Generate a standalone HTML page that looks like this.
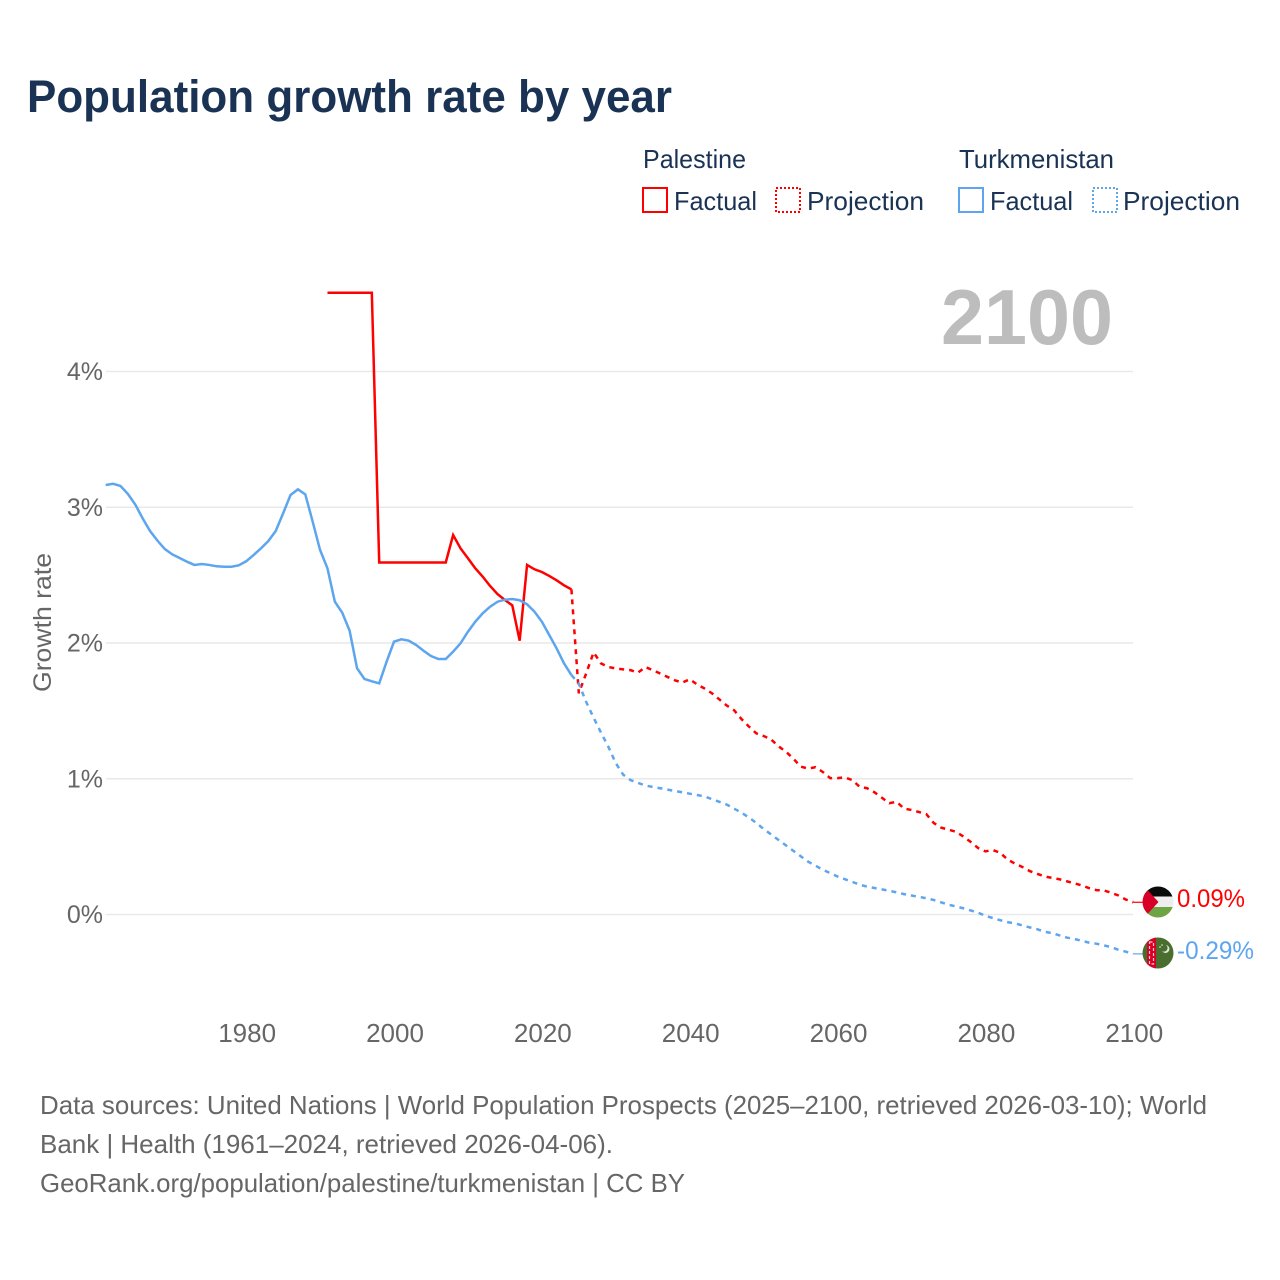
<!DOCTYPE html>
<html lang="en">
<head>
<meta charset="utf-8">
<title>Population growth rate by year</title>
<style>
  html, body { margin: 0; padding: 0; background: #fff; }
  svg { display: block; font-family: "Liberation Sans", sans-serif; }
</style>
</head>
<body>
<svg id="chart" width="1280" height="1280" viewBox="0 0 1280 1280" xmlns="http://www.w3.org/2000/svg">
  <rect x="0" y="0" width="1280" height="1280" fill="#ffffff"/>
  <text x="27" y="112" font-size="45" font-weight="700" fill="#1a3354" textLength="645" lengthAdjust="spacingAndGlyphs">Population growth rate by year</text>

  <g font-size="26" fill="#1a3354">
    <text x="643" y="168" textLength="103" lengthAdjust="spacingAndGlyphs">Palestine</text>
    <text x="959" y="168" textLength="155" lengthAdjust="spacingAndGlyphs">Turkmenistan</text>

    <g>
      <rect x="643" y="188" width="24" height="24" fill="none" stroke="#ff0000" stroke-width="2"/>
      <text x="674" y="210" textLength="83" lengthAdjust="spacingAndGlyphs">Factual</text>
    </g>
    <g>
      <rect x="776" y="188" width="24" height="24" fill="none" stroke="#ff0000" stroke-width="2" stroke-dasharray="2 2"/>
      <text x="807" y="210" textLength="117" lengthAdjust="spacingAndGlyphs">Projection</text>
    </g>
    <g>
      <rect x="959" y="188" width="24" height="24" fill="none" stroke="#5da5ee" stroke-width="2"/>
      <text x="990" y="210" textLength="83" lengthAdjust="spacingAndGlyphs">Factual</text>
    </g>
    <g>
      <rect x="1093" y="188" width="24" height="24" fill="none" stroke="#5da5ee" stroke-width="2" stroke-dasharray="2 2"/>
      <text x="1123" y="210" textLength="117" lengthAdjust="spacingAndGlyphs">Projection</text>
    </g>
  </g>

  <g id="grid"></g>
  <g id="yticks"></g>
  <g id="xticks"></g>

  <text x="941" y="344" font-size="78" font-weight="700" fill="#bdbdbd" textLength="172" lengthAdjust="spacingAndGlyphs">2100</text>
  <text transform="translate(51,692) rotate(-90)" font-size="25" fill="#666666" textLength="139" lengthAdjust="spacingAndGlyphs">Growth rate</text>

  <g id="series"></g>

  <defs>
    <clipPath id="clip-ps"><circle cx="1158" cy="902" r="15.5"/></clipPath>
    <clipPath id="clip-tm"><circle cx="1158" cy="953" r="15.5"/></clipPath>
  </defs>

  <g clip-path="url(#clip-ps)">
    <rect x="1142" y="886" width="32" height="10.5" fill="#0a0a0a"/>
    <rect x="1142" y="896.5" width="32" height="10.5" fill="#eeeeee"/>
    <rect x="1142" y="907" width="32" height="11" fill="#6da544"/>
    <polygon points="1142,884 1158.5,902 1142,920" fill="#d80027"/>
  </g>

  <g clip-path="url(#clip-tm)">
    <rect x="1142" y="937" width="32" height="32" fill="#496e2d"/>
    <rect x="1147" y="937" width="9" height="32" fill="#d80027"/>
    <rect x="1149.5" y="942" width="4" height="22" fill="none" stroke="#f3c9c9" stroke-width="1.2" stroke-dasharray="3 2"/>
    <path d="M1166 945 a4 4 0 1 1 -4 6 a3.4 3.4 0 0 0 4 -6z" fill="#dfe6d8"/>
    <circle cx="1160" cy="947" r="0.8" fill="#eeeeee"/>
    <circle cx="1162" cy="945" r="0.8" fill="#eeeeee"/>
  </g>

  <text x="1177" y="907" font-size="25" fill="#ff0000" textLength="68" lengthAdjust="spacingAndGlyphs">0.09%</text>
  <text x="1177" y="959" font-size="25" fill="#5da5ee" textLength="77" lengthAdjust="spacingAndGlyphs">-0.29%</text>

  <g font-size="26" fill="#666666">
    <text x="40" y="1114" textLength="1167" lengthAdjust="spacingAndGlyphs">Data sources: United Nations | World Population Prospects (2025–2100, retrieved 2026-03-10); World</text>
    <text x="40" y="1153" textLength="573" lengthAdjust="spacingAndGlyphs">Bank | Health (1961–2024, retrieved 2026-04-06).</text>
    <text x="40" y="1192" textLength="645" lengthAdjust="spacingAndGlyphs">GeoRank.org/population/palestine/turkmenistan | CC BY</text>
  </g>
</svg>

<script>
const yTickValues = [0, 1, 2, 3, 4];
const yTickLabels = ["0%", "1%", "2%", "3%", "4%"];
const xTickValues = [1980, 2000, 2020, 2040, 2060, 2080, 2100];

const turkmenistanFactualStart = 1961;
const turkmenistanFactual = [
  3.164, 3.173, 3.157, 3.098, 3.02, 2.918, 2.825, 2.754, 2.692, 2.653,
  2.626, 2.599, 2.575, 2.582, 2.575, 2.565, 2.562, 2.562, 2.572, 2.602,
  2.648, 2.697, 2.751, 2.825, 2.955, 3.09, 3.132, 3.095, 2.894, 2.685,
  2.55, 2.304, 2.223, 2.09, 1.814, 1.735, 1.718, 1.703, 1.862, 2.01,
  2.027, 2.017, 1.985, 1.943, 1.904, 1.882, 1.882, 1.936, 1.998, 2.083,
  2.157, 2.219, 2.267, 2.304, 2.319, 2.324, 2.315, 2.285, 2.231, 2.157,
  2.059, 1.96, 1.85, 1.764
];

const turkmenistanProjectionStart = 2024;
const turkmenistanProjection = [
  1.764, 1.70, 1.565, 1.45, 1.34, 1.235, 1.115, 1.03, 0.99, 0.97, 0.95,
  0.94, 0.93, 0.92, 0.91, 0.90, 0.89, 0.88, 0.87, 0.85, 0.83, 0.81,
  0.78, 0.75, 0.715, 0.675, 0.63, 0.59, 0.55, 0.51, 0.47, 0.43,
  0.39, 0.36, 0.33, 0.305, 0.28, 0.26, 0.24, 0.22, 0.205, 0.195,
  0.185, 0.175, 0.163, 0.15, 0.14, 0.13, 0.12, 0.107, 0.09, 0.072,
  0.06, 0.046, 0.03, 0.014, -0.01, -0.026, -0.042, -0.056, -0.066, -0.08,
  -0.095, -0.108, -0.127, -0.137, -0.153, -0.17, -0.18, -0.193, -0.207, -0.215,
  -0.227, -0.24, -0.26, -0.274, -0.29
];

const palestineFactualStart = 1991;
const palestineFactual = [
  4.58, 4.58, 4.58, 4.58, 4.58, 4.58, 4.58, 2.593, 2.593, 2.593,
  2.593, 2.593, 2.593, 2.593, 2.593, 2.593, 2.593, 2.795, 2.697, 2.624,
  2.55, 2.489, 2.42, 2.36, 2.317, 2.277, 2.017, 2.575, 2.543, 2.523,
  2.494, 2.462, 2.425, 2.395
];

const palestineProjectionStart = 2024;
const palestineProjection = [
  2.395, 1.63, 1.777, 1.931, 1.85, 1.823, 1.813, 1.806, 1.80, 1.781, 1.823,
  1.80, 1.775, 1.75, 1.725, 1.708, 1.733, 1.695, 1.665, 1.63, 1.585, 1.54,
  1.505, 1.44, 1.385, 1.335, 1.315, 1.29, 1.24, 1.20, 1.15, 1.09,
  1.075, 1.085, 1.05, 1.005, 1.005, 1.01, 0.99, 0.94, 0.93, 0.90,
  0.86, 0.82, 0.83, 0.78, 0.77, 0.755, 0.74, 0.675, 0.64, 0.625,
  0.61, 0.575, 0.535, 0.49, 0.465, 0.475, 0.455, 0.405, 0.375, 0.35,
  0.32, 0.30, 0.28, 0.27, 0.26, 0.245, 0.23, 0.215, 0.195, 0.18,
  0.178, 0.16, 0.14, 0.11, 0.09
];

const SVG_NS = "http://www.w3.org/2000/svg";
function xScale(year) { return 394 + (year - 2000) * 7.3925; }
function yScale(value) { return 914.5 - value * 135.75; }

function pointsFor(values, startYear) {
  return values.map(function (v, i) {
    return xScale(startYear + i).toFixed(2) + "," + yScale(v).toFixed(2);
  }).join(" ");
}

const gridGroup = document.getElementById("grid");
const yTickGroup = document.getElementById("yticks");
const xTickGroup = document.getElementById("xticks");
const seriesGroup = document.getElementById("series");

yTickValues.forEach(function (v, i) {
  const line = document.createElementNS(SVG_NS, "line");
  
  
  line.setAttribute("x1", 106);
  line.setAttribute("x2", 1133);
  line.setAttribute("y1", yScale(v));
  line.setAttribute("y2", yScale(v));
  line.setAttribute("stroke", "#e9e9e9");
  line.setAttribute("stroke-width", "1.5");
  gridGroup.appendChild(line);

  const label = document.createElementNS(SVG_NS, "text");
  
  
  label.setAttribute("x", 103);
  label.setAttribute("y", yScale(v) + 8.5);
  label.setAttribute("text-anchor", "end");
  label.setAttribute("font-size", "25");
  label.setAttribute("fill", "#666666");
  label.textContent = yTickLabels[i];
  yTickGroup.appendChild(label);
});

xTickValues.forEach(function (year) {
  const label = document.createElementNS(SVG_NS, "text");
  
  
  label.setAttribute("x", xScale(year) + 1);
  label.setAttribute("y", 1042);
  label.setAttribute("text-anchor", "middle");
  label.setAttribute("font-size", "26");
  label.setAttribute("fill", "#666666");
  label.textContent = String(year);
  xTickGroup.appendChild(label);
});

function styleLine(el, color, dashed) {
  el.setAttribute("fill", "none");
  el.setAttribute("stroke", color);
  el.setAttribute("stroke-width", "2.5");
  el.setAttribute("stroke-linejoin", "miter");
  if (dashed) { el.setAttribute("stroke-dasharray", "5 5"); }
  seriesGroup.appendChild(el);
}

const palestineFactualLine = document.createElementNS(SVG_NS, "polyline");


palestineFactualLine.setAttribute("points", pointsFor(palestineFactual, palestineFactualStart));
styleLine(palestineFactualLine, "#ff0000", false);

const palestineProjectionLine = document.createElementNS(SVG_NS, "polyline");


palestineProjectionLine.setAttribute("points", pointsFor(palestineProjection, palestineProjectionStart));
styleLine(palestineProjectionLine, "#ff0000", true);

const turkmenistanFactualLine = document.createElementNS(SVG_NS, "polyline");


turkmenistanFactualLine.setAttribute("points", pointsFor(turkmenistanFactual, turkmenistanFactualStart));
styleLine(turkmenistanFactualLine, "#5da5ee", false);

const turkmenistanProjectionLine = document.createElementNS(SVG_NS, "polyline");


turkmenistanProjectionLine.setAttribute("points", pointsFor(turkmenistanProjection, turkmenistanProjectionStart));
styleLine(turkmenistanProjectionLine, "#5da5ee", true);

const palestineLeader = document.createElementNS(SVG_NS, "line");


palestineLeader.setAttribute("x1", xScale(2100));
palestineLeader.setAttribute("x2", 1143);
palestineLeader.setAttribute("y1", yScale(palestineProjection[palestineProjection.length - 1]));
palestineLeader.setAttribute("y2", yScale(palestineProjection[palestineProjection.length - 1]));
palestineLeader.setAttribute("stroke", "#ff0000");
palestineLeader.setAttribute("stroke-width", "1.2");
seriesGroup.appendChild(palestineLeader);

const turkmenistanLeader = document.createElementNS(SVG_NS, "line");


turkmenistanLeader.setAttribute("x1", xScale(2100));
turkmenistanLeader.setAttribute("x2", 1143);
turkmenistanLeader.setAttribute("y1", yScale(turkmenistanProjection[turkmenistanProjection.length - 1]));
turkmenistanLeader.setAttribute("y2", yScale(turkmenistanProjection[turkmenistanProjection.length - 1]));
turkmenistanLeader.setAttribute("stroke", "#5da5ee");
turkmenistanLeader.setAttribute("stroke-width", "1.2");
seriesGroup.appendChild(turkmenistanLeader);
</script>
</body>
</html>
